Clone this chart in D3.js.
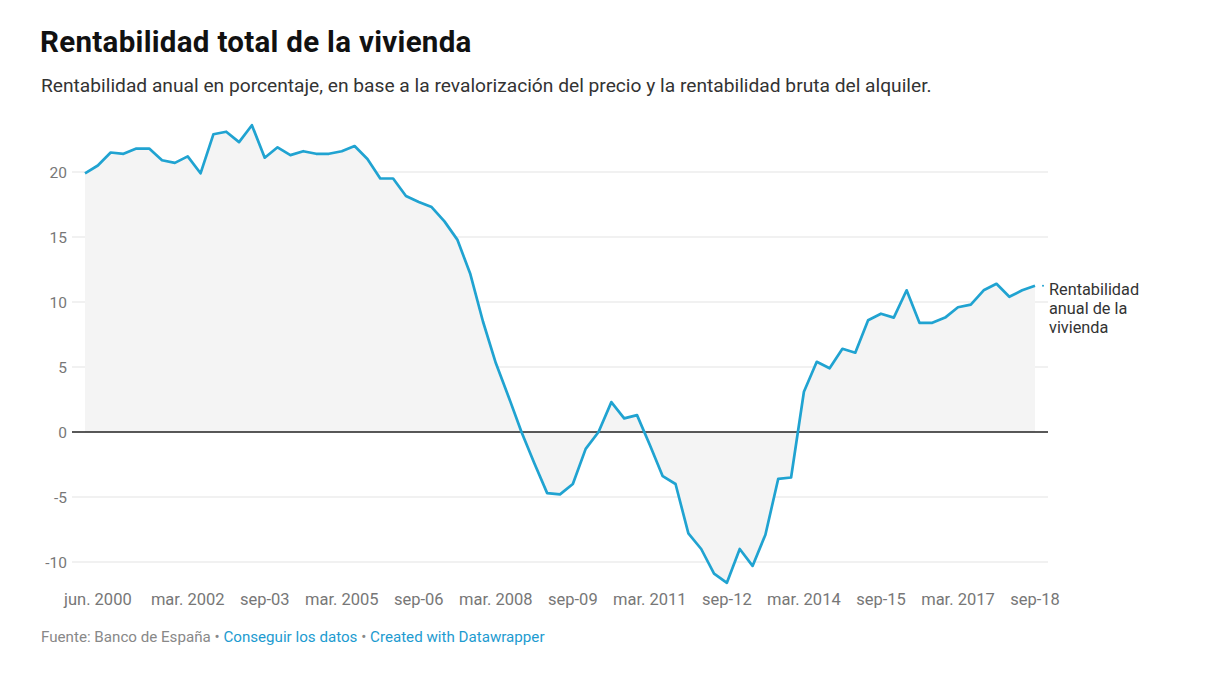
<!DOCTYPE html>
<html><head><meta charset="utf-8">
<script src="https://cdn.jsdelivr.net/npm/d3@7"></script>
<style>
body{margin:0;background:#fff;font-family:Roboto,"Noto Sans",sans-serif;}
</style></head>
<body>
<svg id="c" width="1214" height="690"></svg>
<script>
const values = [19.9,20.5,21.5,21.4,21.8,21.8,20.9,20.7,21.2,19.9,
22.9,23.1,22.3,23.6,21.1,21.9,21.3,21.6,21.4,21.4,
21.6,22.0,21.0,19.5,19.5,18.15,17.7,17.3,16.2,14.8,
12.2,8.5,5.3,2.7,0.0,-2.4,-4.7,-4.8,-4.0,-1.3,
0.0,2.3,1.05,1.3,-1.0,-3.4,-4.0,-7.8,-9.0,-10.9,
-11.6,-9.0,-10.3,-7.9,-3.6,-3.5,3.1,5.4,4.9,6.4,
6.1,8.6,9.1,8.8,10.9,8.4,8.4,8.8,9.6,9.8,
10.9,11.4,10.4,10.9,11.25];
const tickIndex = [1,8,14,20,26,32,38,44,50,56,62,68,74];
const tickLabels = ["jun. 2000","mar. 2002","sep-03","mar. 2005","sep-06","mar. 2008","sep-09","mar. 2011","sep-12","mar. 2014","sep-15","mar. 2017","sep-18"];
const yTicks = [-10,-5,0,5,10,15,20];
const seriesLabel = ["Rentabilidad","anual de la","vivienda"];

const svg = d3.select("#c");
const x = d3.scaleLinear().domain([0, values.length-1]).range([85,1035]);
const y = d3.scaleLinear().domain([-10,20]).range([562,172]);

svg.append("text").attr("x",40).attr("y",52).attr("font-size",29.5).attr("letter-spacing",0.3).attr("font-weight",700).attr("fill","#111").text("Rentabilidad total de la vivienda");
svg.append("text").attr("x",41).attr("y",92).attr("font-size",19.2).attr("fill","#333").text("Rentabilidad anual en porcentaje, en base a la revalorización del precio y la rentabilidad bruta del alquiler.");

// grid
const g = svg.append("g");
g.selectAll("line.grid").data(yTicks.filter(d=>d!==0)).join("line")
 .attr("x1",72).attr("x2",1048).attr("y1",d=>y(d)).attr("y2",d=>y(d))
 .attr("stroke","#e3e3e3").attr("stroke-width",1);
g.selectAll("text.yl").data(yTicks).join("text")
 .attr("x",67).attr("y",d=>y(d)+5.5).attr("text-anchor","end").attr("font-size",15.5).attr("fill","#777").text(d=>d);

// area
const area = d3.area().x((d,i)=>x(i)).y0(y(0)).y1(d=>y(d));
svg.append("path").datum(values).attr("d",area).attr("fill","#f4f4f4");

// zero line
svg.append("line").attr("x1",72).attr("x2",1048).attr("y1",y(0)).attr("y2",y(0)).attr("stroke","#222").attr("stroke-width",1.3);

// line
const line = d3.line().x((d,i)=>x(i)).y(d=>y(d));
svg.append("path").datum(values).attr("d",line).attr("fill","none").attr("stroke","#20a3d1").attr("stroke-width",2.7).attr("stroke-linejoin","round");

// x axis labels
svg.selectAll("text.xl").data(tickIndex).join("text")
 .attr("x",d=>x(d)).attr("y",605).attr("text-anchor","middle").attr("font-size",16.5).attr("fill","#777")
 .text((d,i)=>tickLabels[i]);

// series label
const last = values.length-1;
svg.append("circle").attr("cx",x(last)+8).attr("cy",y(values[last])).attr("r",1).attr("fill","#20a3d1");
const lbl = svg.append("text").attr("x",1049).attr("y",295).attr("font-size",16.3).attr("fill","#333");
seriesLabel.forEach((t,i)=>lbl.append("tspan").attr("x",1049).attr("dy",i===0?0:19).text(t));

// footer
const f = svg.append("text").attr("x",41).attr("y",642).attr("font-size",15.15);
f.append("tspan").attr("fill","#888").text("Fuente: Banco de España • ");
f.append("tspan").attr("fill","#1d9bd0").text("Conseguir los datos");
f.append("tspan").attr("fill","#888").text(" • ");
f.append("tspan").attr("fill","#1d9bd0").text("Created with Datawrapper");
</script>
</body></html>
